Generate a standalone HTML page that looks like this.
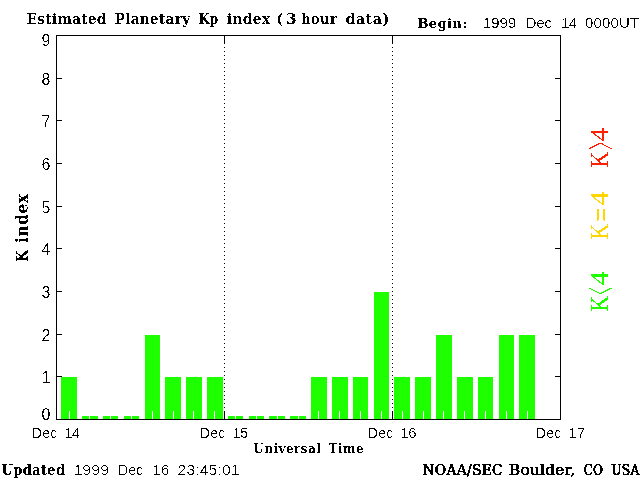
<!DOCTYPE html>
<html lang="en"><head><meta charset="utf-8"><title>Estimated Planetary Kp index</title>
<style>
html,body{margin:0;padding:0;background:#fff;width:640px;height:480px;overflow:hidden}
svg{display:block}
.ss{font-family:"Liberation Sans","DejaVu Sans",sans-serif;fill:#000}
.sb{font-family:"DejaVu Serif","Liberation Serif",serif;font-weight:bold;fill:#000}
.sm{font-family:"DejaVu Serif","Liberation Serif",serif;fill:#000;stroke:#000;stroke-width:0.45px}
.sr{font-family:"Liberation Serif","DejaVu Serif",serif;fill:#000}
</style></head><body>
<svg width="640" height="480" viewBox="0 0 640 480">
<rect x="0" y="0" width="640" height="480" fill="#fff"/>
<g shape-rendering="crispEdges">
<rect x="61" y="377" width="16" height="42" fill="#1eff00"/>
<rect x="82" y="416" width="16" height="3" fill="#1eff00"/>
<rect x="103" y="416" width="15" height="3" fill="#1eff00"/>
<rect x="124" y="416" width="15" height="3" fill="#1eff00"/>
<rect x="145" y="335" width="15" height="84" fill="#1eff00"/>
<rect x="165" y="377" width="16" height="42" fill="#1eff00"/>
<rect x="186" y="377" width="16" height="42" fill="#1eff00"/>
<rect x="207" y="377" width="16" height="42" fill="#1eff00"/>
<rect x="228" y="416" width="15" height="3" fill="#1eff00"/>
<rect x="249" y="416" width="15" height="3" fill="#1eff00"/>
<rect x="269" y="416" width="16" height="3" fill="#1eff00"/>
<rect x="290" y="416" width="16" height="3" fill="#1eff00"/>
<rect x="311" y="377" width="16" height="42" fill="#1eff00"/>
<rect x="332" y="377" width="16" height="42" fill="#1eff00"/>
<rect x="353" y="377" width="15" height="42" fill="#1eff00"/>
<rect x="374" y="292" width="15" height="127" fill="#1eff00"/>
<rect x="394" y="377" width="16" height="42" fill="#1eff00"/>
<rect x="415" y="377" width="16" height="42" fill="#1eff00"/>
<rect x="436" y="335" width="16" height="84" fill="#1eff00"/>
<rect x="457" y="377" width="16" height="42" fill="#1eff00"/>
<rect x="478" y="377" width="15" height="42" fill="#1eff00"/>
<rect x="499" y="335" width="15" height="84" fill="#1eff00"/>
<rect x="519" y="335" width="16" height="84" fill="#1eff00"/>
<rect x="69" y="411" width="1" height="8" fill="#fff"/>
<rect x="89" y="411" width="1" height="8" fill="#fff"/>
<rect x="110" y="411" width="1" height="8" fill="#fff"/>
<rect x="131" y="411" width="1" height="8" fill="#fff"/>
<rect x="152" y="411" width="1" height="8" fill="#fff"/>
<rect x="173" y="411" width="1" height="8" fill="#fff"/>
<rect x="193" y="411" width="1" height="8" fill="#fff"/>
<rect x="214" y="411" width="1" height="8" fill="#fff"/>
<rect x="235" y="411" width="1" height="8" fill="#fff"/>
<rect x="256" y="411" width="1" height="8" fill="#fff"/>
<rect x="277" y="411" width="1" height="8" fill="#fff"/>
<rect x="298" y="411" width="1" height="8" fill="#fff"/>
<rect x="318" y="411" width="1" height="8" fill="#fff"/>
<rect x="339" y="411" width="1" height="8" fill="#fff"/>
<rect x="360" y="411" width="1" height="8" fill="#fff"/>
<rect x="381" y="411" width="1" height="8" fill="#fff"/>
<rect x="402" y="411" width="1" height="8" fill="#fff"/>
<rect x="423" y="411" width="1" height="8" fill="#fff"/>
<rect x="443" y="411" width="1" height="8" fill="#fff"/>
<rect x="464" y="411" width="1" height="8" fill="#fff"/>
<rect x="485" y="411" width="1" height="8" fill="#fff"/>
<rect x="506" y="411" width="1" height="8" fill="#fff"/>
<rect x="527" y="411" width="1" height="8" fill="#fff"/>
<rect x="548" y="411" width="1" height="8" fill="#fff"/>
<rect x="56" y="35" width="505" height="1" fill="#000"/>
<rect x="56" y="419" width="505" height="1" fill="#000"/>
<rect x="56" y="35" width="1" height="385" fill="#000"/>
<rect x="560" y="35" width="1" height="385" fill="#000"/>
<rect x="57" y="376" width="5" height="1" fill="#000"/>
<rect x="555" y="376" width="5" height="1" fill="#000"/>
<rect x="57" y="334" width="5" height="1" fill="#000"/>
<rect x="555" y="334" width="5" height="1" fill="#000"/>
<rect x="57" y="291" width="5" height="1" fill="#000"/>
<rect x="555" y="291" width="5" height="1" fill="#000"/>
<rect x="57" y="248" width="5" height="1" fill="#000"/>
<rect x="555" y="248" width="5" height="1" fill="#000"/>
<rect x="57" y="206" width="5" height="1" fill="#000"/>
<rect x="555" y="206" width="5" height="1" fill="#000"/>
<rect x="57" y="163" width="5" height="1" fill="#000"/>
<rect x="555" y="163" width="5" height="1" fill="#000"/>
<rect x="57" y="120" width="5" height="1" fill="#000"/>
<rect x="555" y="120" width="5" height="1" fill="#000"/>
<rect x="57" y="78" width="5" height="1" fill="#000"/>
<rect x="555" y="78" width="5" height="1" fill="#000"/>
<rect x="224" y="36" width="1" height="8" fill="#000"/>
<rect x="224" y="411" width="1" height="8" fill="#000"/>
<rect x="224" y="47" width="1" height="1" fill="#000"/>
<rect x="224" y="51" width="1" height="1" fill="#000"/>
<rect x="224" y="55" width="1" height="1" fill="#000"/>
<rect x="224" y="59" width="1" height="1" fill="#000"/>
<rect x="224" y="63" width="1" height="1" fill="#000"/>
<rect x="224" y="67" width="1" height="1" fill="#000"/>
<rect x="224" y="71" width="1" height="1" fill="#000"/>
<rect x="224" y="75" width="1" height="1" fill="#000"/>
<rect x="224" y="79" width="1" height="1" fill="#000"/>
<rect x="224" y="83" width="1" height="1" fill="#000"/>
<rect x="224" y="87" width="1" height="1" fill="#000"/>
<rect x="224" y="91" width="1" height="1" fill="#000"/>
<rect x="224" y="95" width="1" height="1" fill="#000"/>
<rect x="224" y="99" width="1" height="1" fill="#000"/>
<rect x="224" y="103" width="1" height="1" fill="#000"/>
<rect x="224" y="107" width="1" height="1" fill="#000"/>
<rect x="224" y="111" width="1" height="1" fill="#000"/>
<rect x="224" y="115" width="1" height="1" fill="#000"/>
<rect x="224" y="119" width="1" height="1" fill="#000"/>
<rect x="224" y="123" width="1" height="1" fill="#000"/>
<rect x="224" y="127" width="1" height="1" fill="#000"/>
<rect x="224" y="131" width="1" height="1" fill="#000"/>
<rect x="224" y="135" width="1" height="1" fill="#000"/>
<rect x="224" y="139" width="1" height="1" fill="#000"/>
<rect x="224" y="143" width="1" height="1" fill="#000"/>
<rect x="224" y="147" width="1" height="1" fill="#000"/>
<rect x="224" y="151" width="1" height="1" fill="#000"/>
<rect x="224" y="155" width="1" height="1" fill="#000"/>
<rect x="224" y="159" width="1" height="1" fill="#000"/>
<rect x="224" y="163" width="1" height="1" fill="#000"/>
<rect x="224" y="167" width="1" height="1" fill="#000"/>
<rect x="224" y="171" width="1" height="1" fill="#000"/>
<rect x="224" y="175" width="1" height="1" fill="#000"/>
<rect x="224" y="179" width="1" height="1" fill="#000"/>
<rect x="224" y="183" width="1" height="1" fill="#000"/>
<rect x="224" y="187" width="1" height="1" fill="#000"/>
<rect x="224" y="191" width="1" height="1" fill="#000"/>
<rect x="224" y="195" width="1" height="1" fill="#000"/>
<rect x="224" y="199" width="1" height="1" fill="#000"/>
<rect x="224" y="203" width="1" height="1" fill="#000"/>
<rect x="224" y="207" width="1" height="1" fill="#000"/>
<rect x="224" y="211" width="1" height="1" fill="#000"/>
<rect x="224" y="215" width="1" height="1" fill="#000"/>
<rect x="224" y="219" width="1" height="1" fill="#000"/>
<rect x="224" y="223" width="1" height="1" fill="#000"/>
<rect x="224" y="227" width="1" height="1" fill="#000"/>
<rect x="224" y="231" width="1" height="1" fill="#000"/>
<rect x="224" y="235" width="1" height="1" fill="#000"/>
<rect x="224" y="239" width="1" height="1" fill="#000"/>
<rect x="224" y="243" width="1" height="1" fill="#000"/>
<rect x="224" y="247" width="1" height="1" fill="#000"/>
<rect x="224" y="251" width="1" height="1" fill="#000"/>
<rect x="224" y="255" width="1" height="1" fill="#000"/>
<rect x="224" y="259" width="1" height="1" fill="#000"/>
<rect x="224" y="263" width="1" height="1" fill="#000"/>
<rect x="224" y="267" width="1" height="1" fill="#000"/>
<rect x="224" y="271" width="1" height="1" fill="#000"/>
<rect x="224" y="275" width="1" height="1" fill="#000"/>
<rect x="224" y="279" width="1" height="1" fill="#000"/>
<rect x="224" y="283" width="1" height="1" fill="#000"/>
<rect x="224" y="287" width="1" height="1" fill="#000"/>
<rect x="224" y="291" width="1" height="1" fill="#000"/>
<rect x="224" y="295" width="1" height="1" fill="#000"/>
<rect x="224" y="299" width="1" height="1" fill="#000"/>
<rect x="224" y="303" width="1" height="1" fill="#000"/>
<rect x="224" y="307" width="1" height="1" fill="#000"/>
<rect x="224" y="311" width="1" height="1" fill="#000"/>
<rect x="224" y="315" width="1" height="1" fill="#000"/>
<rect x="224" y="319" width="1" height="1" fill="#000"/>
<rect x="224" y="323" width="1" height="1" fill="#000"/>
<rect x="224" y="327" width="1" height="1" fill="#000"/>
<rect x="224" y="331" width="1" height="1" fill="#000"/>
<rect x="224" y="335" width="1" height="1" fill="#000"/>
<rect x="224" y="339" width="1" height="1" fill="#000"/>
<rect x="224" y="343" width="1" height="1" fill="#000"/>
<rect x="224" y="347" width="1" height="1" fill="#000"/>
<rect x="224" y="351" width="1" height="1" fill="#000"/>
<rect x="224" y="355" width="1" height="1" fill="#000"/>
<rect x="224" y="359" width="1" height="1" fill="#000"/>
<rect x="224" y="363" width="1" height="1" fill="#000"/>
<rect x="224" y="367" width="1" height="1" fill="#000"/>
<rect x="224" y="371" width="1" height="1" fill="#000"/>
<rect x="224" y="375" width="1" height="1" fill="#000"/>
<rect x="224" y="379" width="1" height="1" fill="#000"/>
<rect x="224" y="383" width="1" height="1" fill="#000"/>
<rect x="224" y="387" width="1" height="1" fill="#000"/>
<rect x="224" y="391" width="1" height="1" fill="#000"/>
<rect x="224" y="395" width="1" height="1" fill="#000"/>
<rect x="224" y="399" width="1" height="1" fill="#000"/>
<rect x="224" y="403" width="1" height="1" fill="#000"/>
<rect x="224" y="407" width="1" height="1" fill="#000"/>
<rect x="392" y="36" width="1" height="8" fill="#000"/>
<rect x="392" y="411" width="1" height="8" fill="#000"/>
<rect x="392" y="47" width="1" height="1" fill="#000"/>
<rect x="392" y="51" width="1" height="1" fill="#000"/>
<rect x="392" y="55" width="1" height="1" fill="#000"/>
<rect x="392" y="59" width="1" height="1" fill="#000"/>
<rect x="392" y="63" width="1" height="1" fill="#000"/>
<rect x="392" y="67" width="1" height="1" fill="#000"/>
<rect x="392" y="71" width="1" height="1" fill="#000"/>
<rect x="392" y="75" width="1" height="1" fill="#000"/>
<rect x="392" y="79" width="1" height="1" fill="#000"/>
<rect x="392" y="83" width="1" height="1" fill="#000"/>
<rect x="392" y="87" width="1" height="1" fill="#000"/>
<rect x="392" y="91" width="1" height="1" fill="#000"/>
<rect x="392" y="95" width="1" height="1" fill="#000"/>
<rect x="392" y="99" width="1" height="1" fill="#000"/>
<rect x="392" y="103" width="1" height="1" fill="#000"/>
<rect x="392" y="107" width="1" height="1" fill="#000"/>
<rect x="392" y="111" width="1" height="1" fill="#000"/>
<rect x="392" y="115" width="1" height="1" fill="#000"/>
<rect x="392" y="119" width="1" height="1" fill="#000"/>
<rect x="392" y="123" width="1" height="1" fill="#000"/>
<rect x="392" y="127" width="1" height="1" fill="#000"/>
<rect x="392" y="131" width="1" height="1" fill="#000"/>
<rect x="392" y="135" width="1" height="1" fill="#000"/>
<rect x="392" y="139" width="1" height="1" fill="#000"/>
<rect x="392" y="143" width="1" height="1" fill="#000"/>
<rect x="392" y="147" width="1" height="1" fill="#000"/>
<rect x="392" y="151" width="1" height="1" fill="#000"/>
<rect x="392" y="155" width="1" height="1" fill="#000"/>
<rect x="392" y="159" width="1" height="1" fill="#000"/>
<rect x="392" y="163" width="1" height="1" fill="#000"/>
<rect x="392" y="167" width="1" height="1" fill="#000"/>
<rect x="392" y="171" width="1" height="1" fill="#000"/>
<rect x="392" y="175" width="1" height="1" fill="#000"/>
<rect x="392" y="179" width="1" height="1" fill="#000"/>
<rect x="392" y="183" width="1" height="1" fill="#000"/>
<rect x="392" y="187" width="1" height="1" fill="#000"/>
<rect x="392" y="191" width="1" height="1" fill="#000"/>
<rect x="392" y="195" width="1" height="1" fill="#000"/>
<rect x="392" y="199" width="1" height="1" fill="#000"/>
<rect x="392" y="203" width="1" height="1" fill="#000"/>
<rect x="392" y="207" width="1" height="1" fill="#000"/>
<rect x="392" y="211" width="1" height="1" fill="#000"/>
<rect x="392" y="215" width="1" height="1" fill="#000"/>
<rect x="392" y="219" width="1" height="1" fill="#000"/>
<rect x="392" y="223" width="1" height="1" fill="#000"/>
<rect x="392" y="227" width="1" height="1" fill="#000"/>
<rect x="392" y="231" width="1" height="1" fill="#000"/>
<rect x="392" y="235" width="1" height="1" fill="#000"/>
<rect x="392" y="239" width="1" height="1" fill="#000"/>
<rect x="392" y="243" width="1" height="1" fill="#000"/>
<rect x="392" y="247" width="1" height="1" fill="#000"/>
<rect x="392" y="251" width="1" height="1" fill="#000"/>
<rect x="392" y="255" width="1" height="1" fill="#000"/>
<rect x="392" y="259" width="1" height="1" fill="#000"/>
<rect x="392" y="263" width="1" height="1" fill="#000"/>
<rect x="392" y="267" width="1" height="1" fill="#000"/>
<rect x="392" y="271" width="1" height="1" fill="#000"/>
<rect x="392" y="275" width="1" height="1" fill="#000"/>
<rect x="392" y="279" width="1" height="1" fill="#000"/>
<rect x="392" y="283" width="1" height="1" fill="#000"/>
<rect x="392" y="287" width="1" height="1" fill="#000"/>
<rect x="392" y="291" width="1" height="1" fill="#000"/>
<rect x="392" y="295" width="1" height="1" fill="#000"/>
<rect x="392" y="299" width="1" height="1" fill="#000"/>
<rect x="392" y="303" width="1" height="1" fill="#000"/>
<rect x="392" y="307" width="1" height="1" fill="#000"/>
<rect x="392" y="311" width="1" height="1" fill="#000"/>
<rect x="392" y="315" width="1" height="1" fill="#000"/>
<rect x="392" y="319" width="1" height="1" fill="#000"/>
<rect x="392" y="323" width="1" height="1" fill="#000"/>
<rect x="392" y="327" width="1" height="1" fill="#000"/>
<rect x="392" y="331" width="1" height="1" fill="#000"/>
<rect x="392" y="335" width="1" height="1" fill="#000"/>
<rect x="392" y="339" width="1" height="1" fill="#000"/>
<rect x="392" y="343" width="1" height="1" fill="#000"/>
<rect x="392" y="347" width="1" height="1" fill="#000"/>
<rect x="392" y="351" width="1" height="1" fill="#000"/>
<rect x="392" y="355" width="1" height="1" fill="#000"/>
<rect x="392" y="359" width="1" height="1" fill="#000"/>
<rect x="392" y="363" width="1" height="1" fill="#000"/>
<rect x="392" y="367" width="1" height="1" fill="#000"/>
<rect x="392" y="371" width="1" height="1" fill="#000"/>
<rect x="392" y="375" width="1" height="1" fill="#000"/>
<rect x="392" y="379" width="1" height="1" fill="#000"/>
<rect x="392" y="383" width="1" height="1" fill="#000"/>
<rect x="392" y="387" width="1" height="1" fill="#000"/>
<rect x="392" y="391" width="1" height="1" fill="#000"/>
<rect x="392" y="395" width="1" height="1" fill="#000"/>
<rect x="392" y="399" width="1" height="1" fill="#000"/>
<rect x="392" y="403" width="1" height="1" fill="#000"/>
<rect x="392" y="407" width="1" height="1" fill="#000"/>
</g>
<defs><filter id="th" x="0" y="0" width="640" height="480" filterUnits="userSpaceOnUse" color-interpolation-filters="sRGB"><feComponentTransfer><feFuncA type="discrete" tableValues="0 1"/></feComponentTransfer></filter><filter id="ths" x="0" y="0" width="640" height="480" filterUnits="userSpaceOnUse" color-interpolation-filters="sRGB"><feComponentTransfer><feFuncA type="discrete" tableValues="0 0 0 1 1"/></feComponentTransfer></filter><filter id="thm" x="0" y="0" width="640" height="480" filterUnits="userSpaceOnUse" color-interpolation-filters="sRGB"><feComponentTransfer><feFuncA type="discrete" tableValues="0 0 1 1 1"/></feComponentTransfer></filter></defs>
<g filter="url(#ths)">
<text class="ss" font-size="14" transform="translate(482.82,28.4) scale(1.102,1)" textLength="30.39" lengthAdjust="spacing">1999</text>
<text class="ss" font-size="14" transform="translate(526.07,28.4) scale(1.03,1)" textLength="24.93" lengthAdjust="spacing">Dec</text>
<text class="ss" font-size="14" transform="translate(561.26,28.4) scale(1.061,1)" textLength="14.86" lengthAdjust="spacing">14</text>
<text class="ss" font-size="14" transform="translate(585.05,28.4) scale(1.074,1)" textLength="50.31" lengthAdjust="spacing">0000UT</text>
<text class="ss" font-size="14" transform="translate(73.47,474.5) scale(1.15,1)" textLength="31.03" lengthAdjust="spacing">1999</text>
<text class="ss" font-size="14" transform="translate(118.12,474.5) scale(1.009,1)" textLength="24.62" lengthAdjust="spacing">Dec</text>
<text class="ss" font-size="14" transform="translate(152.38,474.5) scale(1.061,1)" textLength="15.99" lengthAdjust="spacing">16</text>
<text class="ss" font-size="14" transform="translate(177.59,474.5) scale(1.126,1)" textLength="55.04" lengthAdjust="spacing">23:45:01</text>
<text class="ss" font-size="14.5" transform="translate(32.01,438) scale(0.956,1)" textLength="26.38" lengthAdjust="spacing">Dec</text>
<text class="ss" font-size="14.5" transform="translate(64.42,438) scale(1.018,1)" textLength="15.37" lengthAdjust="spacing">14</text>
<text class="ss" font-size="14.5" transform="translate(200.01,438) scale(0.956,1)" textLength="26.38" lengthAdjust="spacing">Dec</text>
<text class="ss" font-size="14.5" transform="translate(232.66,438) scale(0.982,1)" textLength="15.80" lengthAdjust="spacing">15</text>
<text class="ss" font-size="14.5" transform="translate(368.01,438) scale(0.956,1)" textLength="26.38" lengthAdjust="spacing">Dec</text>
<text class="ss" font-size="14.5" transform="translate(400.48,438) scale(1.018,1)" textLength="15.63" lengthAdjust="spacing">16</text>
<text class="ss" font-size="14.5" transform="translate(536.01,438) scale(0.956,1)" textLength="26.38" lengthAdjust="spacing">Dec</text>
<text class="ss" font-size="14.5" transform="translate(568.51,438) scale(1.018,1)" textLength="16.38" lengthAdjust="spacing">17</text>
<text class="ss" font-size="16" x="50.5" y="420" text-anchor="end">0</text>
<text class="ss" font-size="16" x="50.5" y="383" text-anchor="end">1</text>
<text class="ss" font-size="16" x="50.5" y="341" text-anchor="end">2</text>
<text class="ss" font-size="16" x="50.5" y="298" text-anchor="end">3</text>
<text class="ss" font-size="16" x="50.5" y="255" text-anchor="end">4</text>
<text class="ss" font-size="16" x="50.5" y="213" text-anchor="end">5</text>
<text class="ss" font-size="16" x="50.5" y="170" text-anchor="end">6</text>
<text class="ss" font-size="16" x="50.5" y="127" text-anchor="end">7</text>
<text class="ss" font-size="16" x="50.5" y="85" text-anchor="end">8</text>
<text class="ss" font-size="16" x="50.5" y="46" text-anchor="end">9</text>
</g>
<g filter="url(#th)">
<g filter="url(#thm)">
<text class="sm" font-size="14" transform="translate(422.46,474.5) scale(0.993,1)" textLength="80.81" lengthAdjust="spacing">NOAA/SEC</text>
<text class="sm" font-size="14" transform="translate(509.07,474.5) scale(1.084,1)" textLength="61.00" lengthAdjust="spacing">Boulder,</text>
<text class="sm" font-size="14" transform="translate(583.74,474.5) scale(0.867,1)" textLength="22.11" lengthAdjust="spacing">CO</text>
<text class="sm" font-size="14" transform="translate(611.30,474.5) scale(0.874,1)" textLength="31.96" lengthAdjust="spacing">USA</text>
</g>
<text class="sb" font-size="14" transform="translate(26.64,24) scale(0.972,1)" textLength="82.05" lengthAdjust="spacing">Estimated</text>
<text class="sb" font-size="14" transform="translate(114.63,24) scale(0.964,1)" textLength="78.20" lengthAdjust="spacing">Planetary</text>
<text class="sb" font-size="14" transform="translate(198.66,24) scale(0.886,1)" textLength="22.05" lengthAdjust="spacing">Kp</text>
<text class="sb" font-size="14" transform="translate(226.69,24) scale(0.998,1)" textLength="43.66" lengthAdjust="spacing">index</text>
<text class="sb" font-size="14" transform="translate(276.02,24) scale(1.12,1)" textLength="18.46" lengthAdjust="spacing">(3</text>
<text class="sb" font-size="14" transform="translate(301.23,24) scale(0.927,1)" textLength="38.29" lengthAdjust="spacing">hour</text>
<text class="sb" font-size="14" transform="translate(345.44,24) scale(1.023,1)" textLength="42.78" lengthAdjust="spacing">data)</text>
<text class="sb" font-size="13" transform="translate(417.45,28) scale(1.013,1)" textLength="48.93" lengthAdjust="spacing">Begin:</text>
<text class="sb" font-size="13" transform="translate(253.37,453) scale(0.921,1)" textLength="73.32" lengthAdjust="spacing">Universal</text>
<text class="sb" font-size="13" transform="translate(328.75,453) scale(0.918,1)" textLength="37.96" lengthAdjust="spacing">Time</text>
<text class="sb" font-size="14" transform="translate(1.50,474.5) scale(0.935,1)" textLength="68.09" lengthAdjust="spacing">Updated</text>
<g transform="translate(27.7,260.8) rotate(-90)">
<text class="sb" font-size="16" transform="translate(-1.15,0) scale(0.881,1)" textLength="13.68" lengthAdjust="spacing">K</text>
<text class="sb" font-size="16" transform="translate(17.68,0) scale(0.994,1)" textLength="49.64" lengthAdjust="spacing">index</text>
</g>
<text class="sr" style="fill:#ff2000" font-size="24" transform="translate(608.00,167.59) rotate(-90) scale(0.923,1.010)">K</text>
<text class="sr" style="fill:#ff2000" font-size="24" transform="translate(618.45,149.69) rotate(-90) scale(0.556,2.200)">&gt;</text>
<text class="sr" style="fill:#ff2000" font-size="24" transform="translate(608.00,141.16) rotate(-90) scale(1.120,1.010)">4</text>
<text class="sr" style="fill:#ffd700" font-size="24" transform="translate(608.00,239.44) rotate(-90) scale(0.923,1.010)">K</text>
<text class="sr" style="fill:#ffd700" font-size="24" transform="translate(611.67,221.94) rotate(-90) scale(1.076,1.333)">=</text>
<text class="sr" style="fill:#ffd700" font-size="24" transform="translate(608.00,205.32) rotate(-90) scale(1.133,1.010)">4</text>
<text class="sr" style="fill:#1eff00" font-size="24" transform="translate(608.00,311.69) rotate(-90) scale(0.923,1.010)">K</text>
<text class="sr" style="fill:#1eff00" font-size="24" transform="translate(618.45,294.42) rotate(-90) scale(0.533,2.200)">&lt;</text>
<text class="sr" style="fill:#1eff00" font-size="24" transform="translate(608.00,285.32) rotate(-90) scale(1.133,1.010)">4</text>
</g>
</svg></body></html>
